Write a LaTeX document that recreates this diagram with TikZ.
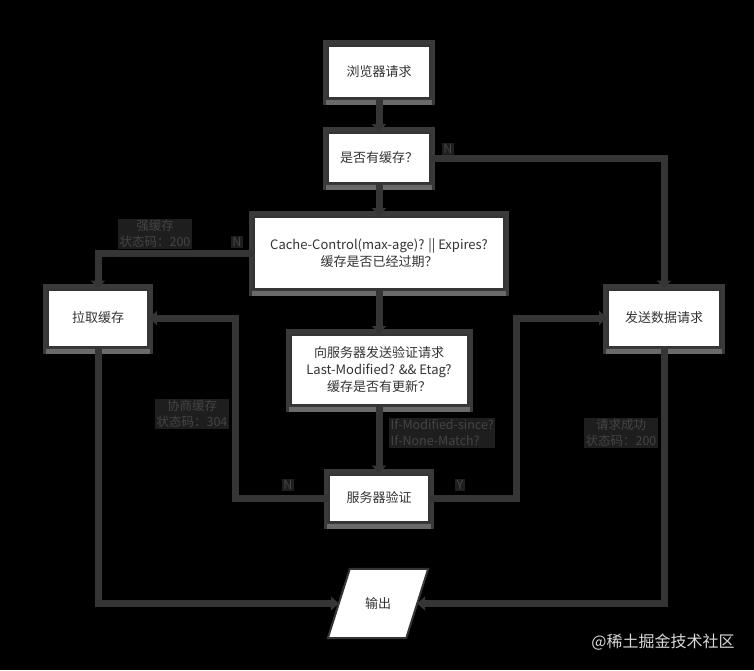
\documentclass[tikz,border=0pt]{standalone}
\usepackage{fontspec}
\setmainfont{Noto Sans CJK SC}
\usetikzlibrary{arrows.meta,calc}
\definecolor{ln}{HTML}{353535}
\definecolor{shd}{HTML}{3a3a3a}
\definecolor{shdb}{HTML}{6a6a6a}
\definecolor{lblbg}{HTML}{1e1e1e}
\definecolor{lbltx}{HTML}{444444}
\definecolor{boxtx}{HTML}{333333}
\pgfdeclarelayer{shadow}
\pgfsetlayers{shadow,main}
\begin{document}
\begin{tikzpicture}[x=1pt,y=-1pt,
  font=\fontsize{13}{17}\selectfont,
  box/.style={draw=ln, line width=2pt, fill=white, align=center, inner sep=0pt, text=boxtx},
  conn/.style={draw=ln, line width=7pt, -{Triangle[length=8pt,width=14pt]}},
  lbl/.style={fill=lblbg, text=lbltx, font=\fontsize{12.5}{16}\selectfont, inner sep=1.5pt, align=center}]
\useasboundingbox (0,0) rectangle (754,670);
\begin{pgfonlayer}{shadow}
\fill[black] (0,0) rectangle (754,670);
\end{pgfonlayer}

% boxes
\node[box, minimum width=102pt, minimum height=52pt] (b1) at (379,72) {浏览器请求};
\node[box, minimum width=102pt, minimum height=50pt] (b2) at (379,158) {是否有缓存？};
\node[box, minimum width=250pt, minimum height=72pt] (b3) at (379,253) {Cache-Control(max-age)? || Expires?\\缓存是否已经过期？};
\node[box, minimum width=100pt, minimum height=57pt] (b4) at (98,318) {拉取缓存};
\node[box, minimum width=112pt, minimum height=57pt] (b5) at (664,318) {发送数据请求};
\node[box, minimum width=177pt, minimum height=70pt] (b6) at (379,370) {向服务器发送验证请求\\Last-Modified? \&\& Etag?\\缓存是否有更新？};
\node[box, minimum width=100pt, minimum height=47pt] (b7) at (379,498) {服务器验证};
\node[inner sep=0pt, minimum width=78pt, minimum height=69pt, text=boxtx] (b8) at (378,603.5) {输出};
\draw[ln, line width=2pt, fill=white]
  ($(b8.north west)+(11,0)$) -- ($(b8.north east)+(11,0)$) --
  ($(b8.south east)+(-11,0)$) -- ($(b8.south west)+(-11,0)$) -- cycle;
\node[text=boxtx] at (b8.center) {输出};

% shadows
\begin{pgfonlayer}{shadow}
\foreach \n in {b1,b2,b3,b4,b5,b6,b7}{
  \fill[shd] ($(\n.north west)+(-4,-5)$) rectangle ($(\n.south east)+(4,6)$);
  \fill[shdb] ($(\n.south west)+(-1,1)$) rectangle ($(\n.south east)+(1,6)$);
}
\end{pgfonlayer}

% bend points
\coordinate (kL) at (235,318);
\coordinate (kR) at (516,318);

% connectors
\draw[conn] (b1.south) -- (b2.north);
\draw[conn] (b2.south) -- (b3.north);
\draw[conn] (b2.east) -| (b5.north);
\draw[conn] (b3.west) -| (b4.north);
\draw[conn] (b3.south) -- (b6.north);
\draw[conn] (b6.south) -- (b7.north);
\draw[conn] (b7.west) -| (kL) -- (b4.east);
\draw[conn] (b7.east) -| (kR) -- (b5.west);
\draw[conn] (b4.south) |- (b8.west);
\draw[conn] (b5.south) |- (b8.east);

% labels
\node[lbl] (n0) at (448,149) {N};
\node[lbl] (l1) at (155,234) {强缓存\\状态码：200};
\node[lbl] (n1) at (237,242) {N};
\node[lbl] (l2) at (192,414) {协商缓存\\状态码：304};
\node[lbl] (l3) at (621,433) {请求成功\\状态码：200};
\node[lbl, align=left, anchor=west] (l4) at (389,433) {If-Modified-since?\\If-None-Match?};
\node[lbl] (n2) at (288,485) {N};
\node[lbl] (y1) at (460,485) {Y};

% watermark
\node[text=white!85!black, font=\fontsize{16}{16}\selectfont] (wm) at (663,642) {@稀土掘金技术社区};
\end{tikzpicture}
\end{document}
